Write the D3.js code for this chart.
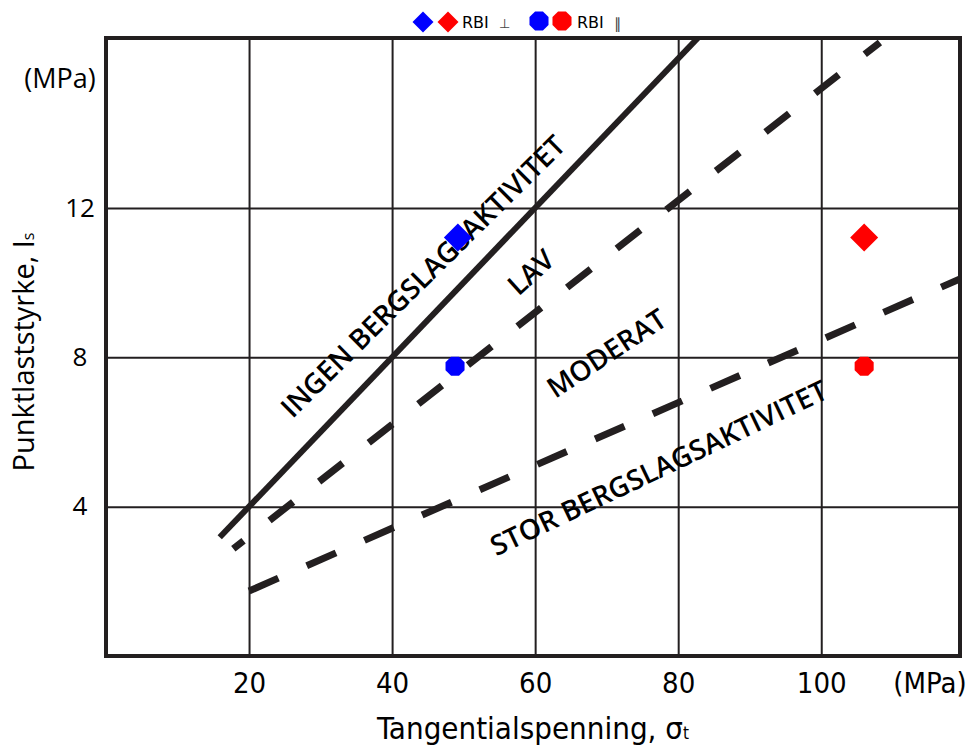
<!DOCTYPE html>
<html>
<head>
<meta charset="utf-8">
<script src="https://cdn.jsdelivr.net/npm/d3@7"></script>
<style>
  html, body { margin: 0; padding: 0; background: #fff; }
  svg { display: block; }
</style>
</head>
<body>
<svg id="chart" width="971" height="749"></svg>
<script>
// Tick values (MPa)
const xTicks = [20, 40, 60, 80, 100];
const yTicks = [4, 8, 12];

// Rock-burst classification boundaries: [tangential stress, point load strength]
const lineIngen = [[15.9, 3.18], [82.75, 16.55]];
const lineLav = [[17.8, 2.87], [108.2, 16.43]];
const lineModerat = [[20, 1.74], [119.4, 10.1]];

// Measured samples
const sigmaValues = [49.2, 106.0];
const isPerpendicular = [11.21, 11.21];
const isParallel = [7.76, 7.76];
const sampleColors = ["#0000ff", "#ff0000"];
const sigmaParallel = [48.8, 106.0];

// Zone labels: text, centre (sigma, Is), rotation
const zoneNames = ["INGEN BERGSLAGSAKTIVITET", "LAV", "MODERAT", "STOR BERGSLAGSAKTIVITET"];
const zoneSigma = [44.2, 59.3, 69.9, 77.2];
const zoneIs = [10.19, 10.3, 8.13, 5.06];
const zoneAngle = [-44.7, -42, -33.4, -25.5];

const ink = "#231f20";
const svg = d3.select("#chart");

const x = d3.scaleLinear().domain([0, 119.4]).range([106, 960]);
const y = d3.scaleLinear().domain([0, 16.55]).range([656, 38]);
const plotW = x.range()[1] - x.range()[0];
const plotH = y.range()[0] - y.range()[1];
const narrowFont = "'Liberation Sans Narrow', 'DejaVu Sans Condensed', sans-serif";

// Grid via axes
const gx = svg.append("g").attr("transform", `translate(0,${y(0)})`)
  .call(d3.axisBottom(x).tickValues(xTicks).tickSize(-plotH).tickPadding(16));
gx.select(".domain").remove();
gx.selectAll(".tick line").attr("stroke", ink).attr("stroke-width", 2);
gx.selectAll(".tick text")
  .attr("fill", "#000")
  .style("font-family", narrowFont)
  .style("font-size", "29px");

const gy = svg.append("g").attr("transform", `translate(${x(0)},0)`)
  .call(d3.axisLeft(y).tickValues(yTicks).tickSize(-plotW).tickPadding(26));
gy.select(".domain").remove();
gy.selectAll(".tick line").attr("stroke", ink).attr("stroke-width", 2);
gy.selectAll(".tick text")
  .attr("fill", "#000")
  .attr("text-anchor", "middle")
  .attr("x", 80 - x(0))
  .style("font-family", "'Open Sans', sans-serif")
  .style("font-size", "26px");

// Unit labels
svg.append("text").attr("x", 60).attr("y", 88).attr("text-anchor", "middle")
  .style("font-family", "'Open Sans', sans-serif").style("font-size", "27px")
  .text("(MPa)");
svg.append("text").attr("x", 930).attr("y", 693).attr("text-anchor", "middle")
  .style("font-family", narrowFont)
  .style("font-size", "29px")
  .text("(MPa)");

// Axis titles
const xt = svg.append("text").attr("x", 533).attr("y", 739).attr("text-anchor", "middle")
  .style("font-family", narrowFont)
  .style("font-size", "31px");
xt.append("tspan").text("Tangentialspenning, σ");
xt.append("tspan").style("font-size", "17px").text("t");

const yt = svg.append("text")
  .attr("transform", "translate(34,352) rotate(-90)")
  .attr("text-anchor", "middle")
  .style("font-family", "'Open Sans', sans-serif")
  .style("font-size", "29px");
yt.append("tspan").text("Punktlaststyrke, I");
yt.append("tspan").style("font-size", "16px").text("s");

// Boundary lines
svg.append("clipPath").attr("id", "plotClip")
  .append("rect").attr("x", x(0)).attr("y", y(16.55)).attr("width", plotW).attr("height", plotH);
const lineGen = d3.line().x(d => x(d[0])).y(d => y(d[1]));
const lines = svg.append("g").attr("clip-path", "url(#plotClip)");
lines.append("path").attr("d", lineGen(lineIngen))
  .attr("fill", "none").attr("stroke", ink).attr("stroke-width", 6);
lines.append("path").attr("d", lineGen(lineLav))
  .attr("fill", "none").attr("stroke", ink).attr("stroke-width", 7)
  .attr("stroke-dasharray", "30,33").attr("stroke-dashoffset", 17);
lines.append("path").attr("d", lineGen(lineModerat))
  .attr("fill", "none").attr("stroke", ink).attr("stroke-width", 7)
  .attr("stroke-dasharray", "32,31");

// Zone labels
zoneNames.forEach((name, i) => {
  svg.append("text")
    .attr("transform", `translate(${x(zoneSigma[i])},${y(zoneIs[i])}) rotate(${zoneAngle[i]})`)
    .attr("text-anchor", "middle")
    .attr("dominant-baseline", "central")
    .style("font-family", "'Open Sans', sans-serif")
    .style("font-weight", 600)
    .style("font-size", "28px")
    .attr("fill", "#000")
    .text(name);
});

// Plot frame
svg.append("rect").attr("x", x(0)).attr("y", y(16.55)).attr("width", plotW).attr("height", plotH)
  .attr("fill", "none").attr("stroke", ink).attr("stroke-width", 4);

// Marker shapes
function diamondPath(r) {
  return d3.line()([[0, -r], [r, 0], [0, r], [-r, 0]]) + "Z";
}
function octagonPath(r) {
  const pts = d3.range(8).map(k => {
    const a = Math.PI / 8 + k * Math.PI / 4;
    return [r * Math.cos(a), r * Math.sin(a)];
  });
  return d3.line()(pts) + "Z";
}

// Samples
const pts = svg.append("g");
sigmaValues.forEach((s, i) => {
  pts.append("path").attr("d", diamondPath(14))
    .attr("transform", `translate(${x(s)},${y(isPerpendicular[i])})`)
    .attr("fill", sampleColors[i]);
});
sigmaParallel.forEach((s, i) => {
  pts.append("path").attr("d", octagonPath(10.3))
    .attr("transform", `translate(${x(s)},${y(isParallel[i])})`)
    .attr("fill", sampleColors[i]);
});

// Legend
const legend = svg.append("g");
const legendFont = "'DejaVu Sans', sans-serif";
[423, 448].forEach((cx, i) => {
  legend.append("path").attr("d", diamondPath(10.5))
    .attr("transform", `translate(${cx},22)`).attr("fill", sampleColors[i]);
});
legend.append("text").attr("x", 462).attr("y", 28)
  .style("font-family", legendFont).style("font-size", "16px").text("RBI");
legend.append("text").attr("x", 499).attr("y", 28)
  .style("font-family", legendFont).style("font-size", "13px").attr("fill", "#444").text("⊥");
[539, 562].forEach((cx, i) => {
  legend.append("path").attr("d", octagonPath(10.3))
    .attr("transform", `translate(${cx},21)`).attr("fill", sampleColors[i]);
});
legend.append("text").attr("x", 577).attr("y", 28)
  .style("font-family", legendFont).style("font-size", "16px").text("RBI");
legend.append("text").attr("x", 614).attr("y", 29)
  .style("font-family", legendFont).style("font-size", "15px").attr("fill", "#444").text("∥");
</script>
</body>
</html>
